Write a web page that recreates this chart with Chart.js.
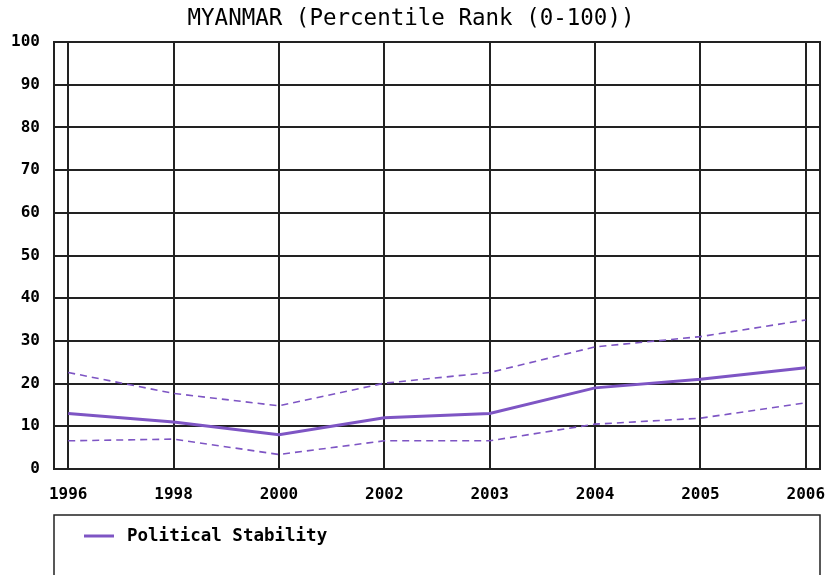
<!DOCTYPE html>
<html>
<head>
<meta charset="utf-8">
<script src="https://cdn.jsdelivr.net/npm/chart.js@4/dist/chart.umd.min.js"></script>
<style>
  html, body { margin: 0; padding: 0; background: #fff; }
  #wrap { width: 825px; height: 575px; position: relative; }
</style>
</head>
<body>
<div id="wrap"><canvas id="chart"></canvas></div>
<script>
// values
const years = ['1996', '1998', '2000', '2002', '2003', '2004', '2005', '2006'];
const stability = [13, 11, 8, 12, 13, 19, 21, 23.7];
const upperBound = [22.6, 17.7, 14.8, 20.1, 22.6, 28.6, 31, 34.9];
const lowerBound = [6.6, 7, 3.4, 6.6, 6.6, 10.5, 11.9, 15.5];
const yTicks = [0, 10, 20, 30, 40, 50, 60, 70, 80, 90, 100];

const purple = '#7e55c4';
const mono = "'DejaVu Sans Mono', 'Liberation Mono', monospace";

const toPoints = arr => arr.map((v, i) => ({ x: i, y: v }));

// frame round the plot plus the boxed legend under it
const framePlugin = {
  id: 'frameAndLegend',
  afterDraw(chart) {
    const { ctx, chartArea } = chart;
    ctx.save();
    ctx.strokeStyle = '#222';
    ctx.lineWidth = 2;
    ctx.strokeRect(chartArea.left, chartArea.top, chartArea.right - chartArea.left, chartArea.bottom - chartArea.top);

    // legend box
    const boxTop = 515;
    ctx.lineWidth = 1.5;
    ctx.strokeRect(chartArea.left, boxTop, chartArea.right - chartArea.left, 80);
    ctx.strokeStyle = purple;
    ctx.lineWidth = 3;
    ctx.beginPath();
    ctx.moveTo(84, 536);
    ctx.lineTo(114, 536);
    ctx.stroke();
    ctx.fillStyle = '#000';
    ctx.font = 'bold 17.5px ' + mono;
    ctx.textBaseline = 'middle';
    ctx.fillText('Political Stability', 127, 536);
    ctx.restore();
  }
};

new Chart(document.getElementById('chart'), {
  type: 'line',
  data: {
    datasets: [
      {
        label: 'Political Stability',
        data: toPoints(stability),
        borderColor: purple,
        borderWidth: 3,
        pointRadius: 0,
        tension: 0,
      },
      {
        label: 'Upper',
        data: toPoints(upperBound),
        borderColor: purple,
        borderWidth: 1.6,
        borderDash: [7, 5],
        pointRadius: 0,
        tension: 0,
      },
      {
        label: 'Lower',
        data: toPoints(lowerBound),
        borderColor: purple,
        borderWidth: 1.6,
        borderDash: [7, 5],
        pointRadius: 0,
        tension: 0,
      },
    ],
  },
  options: {
    responsive: true,
    maintainAspectRatio: false,
    animation: false,
    layout: { padding: { left: 2, right: 5, top: 0, bottom: 66 } },
    plugins: {
      legend: { display: false },
      tooltip: { enabled: false },
      title: {
        display: true,
        text: 'MYANMAR (Percentile Rank (0-100))',
        color: '#000',
        font: { family: mono, size: 22.5, weight: 'normal', lineHeight: 1 },
        padding: { top: 8, bottom: 11.5 },
      },
    },
    scales: {
      x: {
        type: 'linear',
        min: -0.135,
        max: 7.135,
        afterBuildTicks: scale => {
          scale.ticks = years.map((_, i) => ({ value: i }));
        },
        afterFit: scale => {
          scale.height = 40;
          scale.paddingLeft = 0;
          scale.paddingRight = 0;
        },
        ticks: {
          color: '#000',
          font: { family: mono, size: 16, weight: 'bold' },
          padding: 16,
          maxRotation: 0,
          autoSkip: false,
          callback: v => years[v],
        },
        grid: { color: '#222', lineWidth: 2, drawTicks: false },
        border: { display: false },
      },
      y: {
        min: 0,
        max: 100,
        afterBuildTicks: scale => {
          scale.ticks = yTicks.map(v => ({ value: v }));
        },
        afterFit: scale => {
          scale.width = 52;
          scale.paddingTop = 0;
          scale.paddingBottom = 0;
        },
        ticks: {
          color: '#000',
          font: { family: mono, size: 16, weight: 'bold' },
          padding: 14,
        },
        grid: { color: '#222', lineWidth: 2, drawTicks: false },
        border: { display: false },
      },
    },
  },
  plugins: [framePlugin],
});
</script>
</body>
</html>
